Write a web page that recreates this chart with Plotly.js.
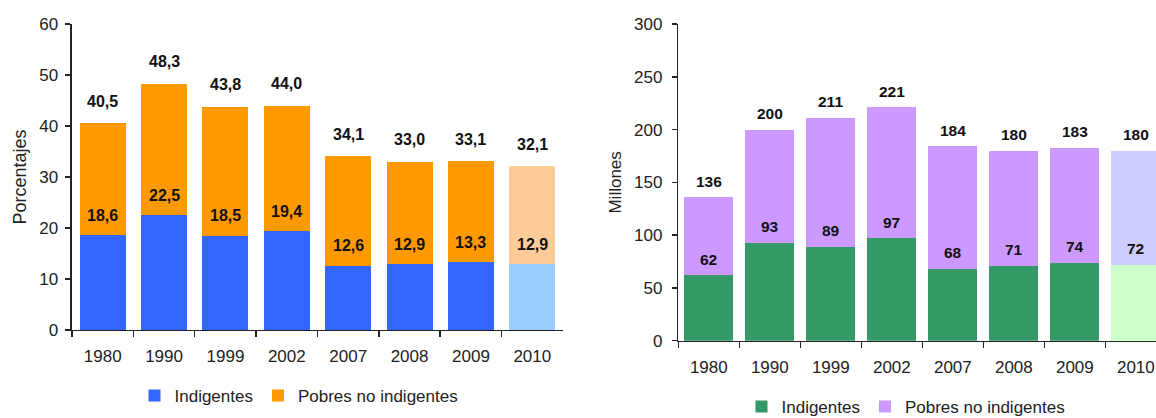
<!DOCTYPE html>
<html>
<head>
<meta charset="utf-8">
<script src="https://cdn.plot.ly/plotly-3.0.1.min.js"></script>
<style>
  html, body { margin: 0; padding: 0; background: #fff; }
  #chart { width: 1156px; height: 418px; }
</style>
</head>
<body>
<div id="chart"></div>
<script>
// ---- Data ----
const years = ['1980', '1990', '1999', '2002', '2007', '2008', '2009', '2010'];

// Left chart: porcentajes
const pctTotal = [40.5, 48.3, 43.8, 44.0, 34.1, 33.0, 33.1, 32.1];
const pctIndigentes = [18.6, 22.5, 18.5, 19.4, 12.6, 12.9, 13.3, 12.9];
const pctPobresNoIndigentes = [21.9, 25.8, 25.3, 24.6, 21.5, 20.1, 19.8, 19.2];

// Right chart: millones
const milTotal = [136, 200, 211, 221, 184, 180, 183, 180];
const milIndigentes = [62, 93, 89, 97, 68, 71, 74, 72];
const milPobresNoIndigentes = [74, 107, 122, 124, 116, 109, 109, 108];

// ---- Styles ----
const FONT = 'Liberation Sans, Arial, sans-serif';
const TXT = '#222222';
const lastIdx = years.length - 1;
function colorsFor(base, light) {
  return years.map((y, i) => (i === lastIdx ? light : base));
}
const fmt1 = v => v.toFixed(1).replace('.', ',');
const fmt0 = v => String(Math.round(v));

const traces = [
  {
    type: 'bar', name: 'Indigentes', x: years, y: pctIndigentes,
    xaxis: 'x', yaxis: 'y', legend: 'legend', width: 0.75,
    marker: { color: colorsFor('#3366ff', '#99ccff') },
    hoverinfo: 'x+y'
  },
  {
    type: 'bar', name: 'Pobres no indigentes', x: years, y: pctPobresNoIndigentes,
    xaxis: 'x', yaxis: 'y', legend: 'legend', width: 0.75,
    marker: { color: colorsFor('#ff9900', '#ffcc99') },
    hoverinfo: 'x+y'
  },
  {
    type: 'bar', name: 'Indigentes', x: years, y: milIndigentes,
    xaxis: 'x2', yaxis: 'y2', legend: 'legend2', width: 0.8,
    marker: { color: colorsFor('#339966', '#ccffcc') },
    hoverinfo: 'x+y'
  },
  {
    type: 'bar', name: 'Pobres no indigentes', x: years, y: milPobresNoIndigentes,
    xaxis: 'x2', yaxis: 'y2', legend: 'legend2', width: 0.8,
    marker: { color: colorsFor('#cc99ff', '#ccccff') },
    hoverinfo: 'x+y'
  }
];

const labelFontL = { family: FONT, size: 16, color: '#111111' };
const labelFontR = { family: FONT, size: 15.5, color: '#111111' };
const annotations = [];
years.forEach((yr, i) => {
  annotations.push({ xref: 'x', yref: 'y', x: i, y: pctTotal[i], text: '<b>' + fmt1(pctTotal[i]) + '</b>',
    showarrow: false, yanchor: 'middle', yshift: 22, font: labelFontL });
  annotations.push({ xref: 'x', yref: 'y', x: i, y: pctIndigentes[i], text: '<b>' + fmt1(pctIndigentes[i]) + '</b>',
    showarrow: false, yanchor: 'middle', yshift: 20, font: labelFontL });
  annotations.push({ xref: 'x2', yref: 'y2', x: i, y: milTotal[i], text: '<b>' + fmt0(milTotal[i]) + '</b>',
    showarrow: false, yanchor: 'middle', yshift: 16, font: labelFontR });
  annotations.push({ xref: 'x2', yref: 'y2', x: i, y: milIndigentes[i], text: '<b>' + fmt0(milIndigentes[i]) + '</b>',
    showarrow: false, yanchor: 'middle', yshift: 16, font: labelFontR });
});

const tickFont = { family: FONT, size: 17, color: TXT };
const xCommon = {
  type: 'category', tickson: 'boundaries', ticks: 'outside', ticklen: 6, tickwidth: 1.5,
  tickcolor: '#222', showline: true, linecolor: '#222', linewidth: 1.5, showgrid: false,
  zeroline: false, tickfont: tickFont, ticklabelstandoff: 10, fixedrange: true
};
const yCommon = {
  ticks: 'outside', ticklen: 5, tickwidth: 1.5, tickcolor: '#222', showline: true,
  linecolor: '#222', linewidth: 1.5, showgrid: false, zeroline: false, tickfont: tickFont,
  fixedrange: true
};

const layout = {
  width: 1156, height: 418,
  margin: { l: 0, r: 0, t: 0, b: 0, autoexpand: false },
  paper_bgcolor: '#ffffff', plot_bgcolor: '#ffffff',
  font: { family: FONT, color: TXT },
  barmode: 'stack',
  showlegend: true,
  xaxis: Object.assign({}, xCommon, { domain: [0.06228, 0.48702], anchor: 'y', range: [-0.5, 7.5] }),
  yaxis: Object.assign({}, yCommon, {
    domain: [0.21053, 0.94258], anchor: 'x', range: [0, 60], dtick: 10, ticklabelstandoff: 4,
    title: { text: 'Porcentajes', font: { family: FONT, size: 18, color: TXT }, standoff: 8 }
  }),
  xaxis2: Object.assign({}, xCommon, { domain: [0.58677, 1], anchor: 'y2', range: [-0.5, 7.33] }),
  yaxis2: Object.assign({}, yCommon, {
    domain: [0.18493, 0.94258], anchor: 'x2', range: [0, 300], dtick: 50, ticklabelstandoff: 6,
    title: { text: 'Millones', font: { family: FONT, size: 17, color: TXT }, standoff: 8 }
  }),
  legend: {
    orientation: 'h', x: 299 / 1156, xanchor: 'center', y: (418 - 396) / 418, yanchor: 'middle',
    font: { family: FONT, size: 17, color: TXT }, bgcolor: 'rgba(0,0,0,0)', traceorder: 'normal'
  },
  legend2: {
    orientation: 'h', x: 906 / 1156, xanchor: 'center', y: (418 - 407) / 418, yanchor: 'middle',
    font: { family: FONT, size: 17, color: TXT }, bgcolor: 'rgba(0,0,0,0)', traceorder: 'normal'
  },
  annotations: annotations
};

Plotly.newPlot('chart', traces, layout, { displayModeBar: false, staticPlot: true });
</script>
</body>
</html>
